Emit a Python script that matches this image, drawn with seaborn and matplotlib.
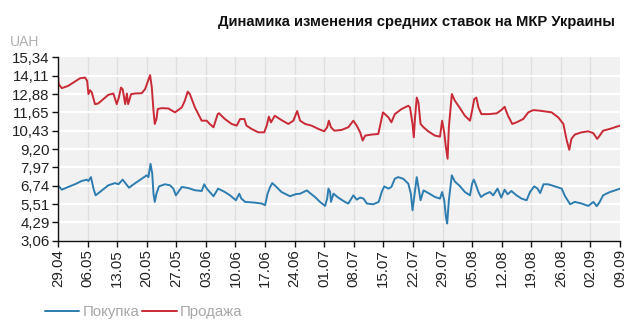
import numpy as np
import pandas as pd
import matplotlib
matplotlib.use("Agg")
import matplotlib.pyplot as plt
from matplotlib.lines import Line2D
import seaborn as sns

# ---- data (day offsets from 29.04) ----
sell_days = [0.0, 0.15, 0.9, 2.4, 4.0, 5.2, 6.4, 6.9, 7.2, 7.6, 8.0, 8.75, 9.5, 10.7, 11.9, 13.1, 13.9, 14.4,
             14.9, 15.3, 15.9, 16.3, 16.6, 17.3, 18.2, 19.8, 20.6, 21.8, 22.2, 22.6, 22.9, 23.3, 23.6, 24.5,
             26.1, 27.7, 29.3, 30.0, 30.7, 31.2, 32.4, 34.0, 35.2, 35.9, 36.8, 37.8, 38.1, 39.5, 41.1, 42.3,
             43.1, 44.1, 44.6, 45.8, 47.4, 48.8, 49.4, 49.9, 50.4, 51.3, 52.9, 54.5, 55.7, 56.6, 57.3, 58.5,
             60.0, 61.6, 63.0, 63.7, 64.1, 64.6, 65.4, 67.1, 68.7, 69.9, 70.7, 71.5, 72.1, 72.7, 74.2, 75.8,
             76.4, 76.9, 78.2, 78.9, 79.7, 81.3, 82.9, 83.3, 83.9, 84.2, 84.5, 84.9, 85.3, 85.8, 86.5, 87.6,
             89.2, 90.4, 90.9, 91.4, 91.8, 92.2, 92.5, 93.2, 93.9, 95.1, 96.3, 97.5, 98.0, 98.5, 99.0, 99.5,
             100.2, 101.8, 103.8, 104.9, 105.7, 106.5, 107.5, 108.5, 110.1, 111.3, 112.5, 114.0, 116.8, 118.4,
             119.6, 120.4, 121.0, 121.5, 122.3, 123.9, 125.5, 126.7, 127.6, 128.2, 129.0, 130.6, 131.8, 133.0]
sell_vals = [14.10, 13.55, 13.28, 13.43, 13.72, 13.94, 13.99, 13.77, 12.88, 13.14, 12.99, 12.21, 12.25, 12.54,
             12.83, 12.92, 12.21, 12.65, 13.32, 13.21, 12.21, 12.92, 12.21, 12.88, 12.92, 12.94, 13.21, 14.15,
             13.32, 11.77, 10.88, 11.21, 11.88, 11.94, 11.92, 11.66, 11.99, 12.43, 13.05, 12.88, 11.99, 11.10,
             11.10, 10.88, 10.66, 11.54, 11.60, 11.21, 10.88, 10.77, 11.21, 11.21, 10.77, 10.55, 10.32, 10.32,
             10.77, 11.37, 10.99, 11.43, 11.14, 10.88, 11.10, 11.75, 11.10, 10.88, 10.77, 10.55, 10.39, 10.66,
             11.10, 10.66, 10.43, 10.48, 10.66, 11.10, 10.77, 10.32, 9.77, 10.10, 10.17, 10.21, 10.99, 11.66,
             11.32, 10.99, 11.54, 11.88, 12.10, 11.99, 10.88, 9.99, 11.32, 12.65, 12.32, 10.88, 10.66, 10.39,
             10.10, 10.03, 11.10, 10.32, 9.32, 8.55, 10.66, 12.88, 12.45, 11.95, 11.43, 11.10, 11.77, 12.54,
             12.65, 11.99, 11.54, 11.54, 11.59, 11.81, 12.03, 11.43, 10.88, 10.99, 11.21, 11.66, 11.81, 11.77,
             11.66, 11.32, 10.88, 9.77, 9.15, 9.88, 10.17, 10.32, 10.39, 10.26, 9.88, 10.10, 10.43, 10.55,
             10.66, 10.77]

buy_days = [0.0, 0.9, 2.4, 4.0, 5.6, 6.8, 7.2, 7.8, 8.4, 8.9, 9.9, 11.9, 13.5, 14.3, 15.3, 16.8, 18.2, 19.8,
            21.0, 21.4, 21.9, 22.3, 22.6, 22.9, 23.3, 23.9, 25.3, 26.5, 27.3, 27.9, 29.3, 30.8, 32.4, 34.0,
            34.6, 35.2, 36.8, 37.9, 39.5, 40.7, 42.1, 42.9, 43.4, 44.3, 46.6, 48.2, 49.0, 49.6, 50.2, 50.7,
            51.3, 52.9, 54.9, 56.3, 57.3, 58.1, 58.9, 59.6, 60.8, 62.0, 63.2, 63.7, 64.0, 64.4, 64.6, 65.2,
            66.3, 67.9, 68.7, 69.9, 70.7, 71.5, 72.3, 73.1, 74.6, 75.9, 76.6, 77.2, 78.2, 78.9, 79.7, 80.5,
            81.7, 82.9, 83.5, 83.9, 84.3, 84.9, 85.3, 85.8, 86.5, 87.6, 89.2, 90.4, 90.9, 91.4, 91.8, 92.1,
            92.5, 93.2, 93.9, 95.1, 96.3, 97.5, 98.0, 98.4, 98.8, 99.5, 100.1, 101.0, 102.2, 103.0, 104.0,
            104.9, 105.7, 106.4, 107.3, 108.5, 109.7, 110.9, 111.7, 112.7, 113.5, 114.1, 114.9, 116.0, 117.6,
            119.2, 120.0, 121.2, 122.3, 123.9, 125.5, 126.7, 127.5, 128.2, 129.0, 130.6, 131.8, 133.0]
buy_vals = [6.77, 6.48, 6.66, 6.84, 7.06, 7.15, 7.06, 7.32, 6.55, 6.10, 6.32, 6.77, 6.92, 6.84, 7.15, 6.61,
            6.90, 7.21, 7.44, 7.32, 8.21, 7.55, 6.21, 5.66, 6.21, 6.70, 6.84, 6.77, 6.55, 6.10, 6.66, 6.59,
            6.44, 6.39, 6.84, 6.55, 6.04, 6.55, 6.32, 6.10, 5.77, 6.21, 5.88, 5.66, 5.61, 5.55, 5.44, 6.21,
            6.66, 6.92, 6.77, 6.32, 6.04, 6.18, 6.21, 6.32, 6.43, 6.26, 5.99, 5.66, 5.39, 5.88, 6.55, 6.32,
            5.66, 6.21, 5.95, 5.66, 5.55, 6.10, 5.81, 5.95, 5.88, 5.55, 5.50, 5.66, 6.32, 6.70, 6.55, 6.66,
            7.21, 7.32, 7.21, 6.88, 6.21, 5.10, 5.99, 7.32, 6.66, 5.77, 6.43, 6.26, 5.99, 5.88, 6.32, 5.77,
            4.66, 4.21, 5.77, 7.44, 7.03, 6.72, 6.32, 6.10, 6.88, 7.15, 6.88, 6.32, 5.99, 6.17, 6.32, 6.10,
            6.55, 5.95, 6.48, 6.17, 6.39, 6.10, 5.88, 5.77, 6.32, 6.70, 6.55, 6.25, 6.84, 6.84, 6.70, 6.55,
            6.04, 5.50, 5.66, 5.55, 5.39, 5.66, 5.37, 5.66, 6.10, 6.32, 6.43, 6.55]

series_names = ["Покупка", "Продажа"]
series_colors = ["#2e7db0", "#c92a35"]

y_ticks = [3.06, 4.29, 5.51, 6.74, 7.97, 9.20, 10.43, 11.65, 12.88, 14.11, 15.34]
y_labels = ["3,06", "4,29", "5,51", "6,74", "7,97", "9,20", "10,43", "11,65", "12,88", "14,11", "15,34"]
x_labels = ["29.04", "06.05", "13.05", "20.05", "27.05", "03.06", "10.06", "17.06", "24.06", "01.07",
            "08.07", "15.07", "22.07", "29.07", "05.08", "12.08", "19.08", "26.08", "02.09", "09.09"]
x_ticks = [7 * i for i in range(len(x_labels))]

title = "Динамика изменения средних ставок на МКР Украины"
unit = "UAH"

# ---- build data frame ----
df = pd.concat([
    pd.DataFrame({"day": buy_days, "value": buy_vals, "series": series_names[0]}),
    pd.DataFrame({"day": sell_days, "value": sell_vals, "series": series_names[1]}),
], ignore_index=True)

sns.set_style("white")
plt.rcParams["font.family"] = ["Liberation Sans", "DejaVu Sans"]

fig = plt.figure(figsize=(6.4, 3.27), dpi=100)
ax = fig.add_axes([58 / 640, 1 - 240.7 / 327, (620 - 58) / 640, (240.7 - 57.4) / 327])
ax.set_facecolor("#f1f1f1")

sns.lineplot(data=df, x="day", y="value", hue="series", palette=dict(zip(series_names, series_colors)),
             estimator=None, sort=False, linewidth=1.4, legend=False, ax=ax)

ax.set_xlim(0, 133)
ax.set_ylim(3.06, 15.34)
ax.set_yticks(y_ticks)
ax.set_yticklabels(y_labels)
ax.set_xticks(x_ticks)
ax.set_xticklabels(x_labels, rotation=90)
ax.set_xlabel("")
ax.set_ylabel("")

# grid lines
for yv in y_ticks[1:-1]:
    ax.axhline(yv, color="white", linewidth=1.6, zorder=0.5)
for xv in x_ticks[1:-1]:
    ax.axvline(xv, color="#dedede", linewidth=1.0, zorder=0.4)

for s in ["top", "right"]:
    ax.spines[s].set_visible(False)
for s in ["left", "bottom"]:
    ax.spines[s].set_color("#111111")
    ax.spines[s].set_linewidth(1.0)

ax.tick_params(axis="both", which="major", direction="out", length=4, width=1, color="#111111",
               labelsize=10.8, labelcolor="#222222", pad=2, left=True, bottom=True)

fig.text(0.961, 0.933, title, ha="right", va="center", fontsize=10.6, fontweight="bold", color="#111111")
fig.text(0.016, 0.872, unit, ha="left", va="center", fontsize=10, color="#b0b0b0")

handles = [Line2D([], [], color=c, linewidth=1.4) for c in series_colors]
leg = fig.legend(handles, series_names, loc="center left", bbox_to_anchor=(0.07, 0.046), ncol=2,
                 frameon=False, fontsize=10.8, handlelength=2.3, handletextpad=0.2, columnspacing=0.2,
                 borderaxespad=0, borderpad=0)
for t in leg.get_texts():
    t.set_color("#a8a8a8")

fig.savefig("out.png", dpi=100, facecolor="white")
